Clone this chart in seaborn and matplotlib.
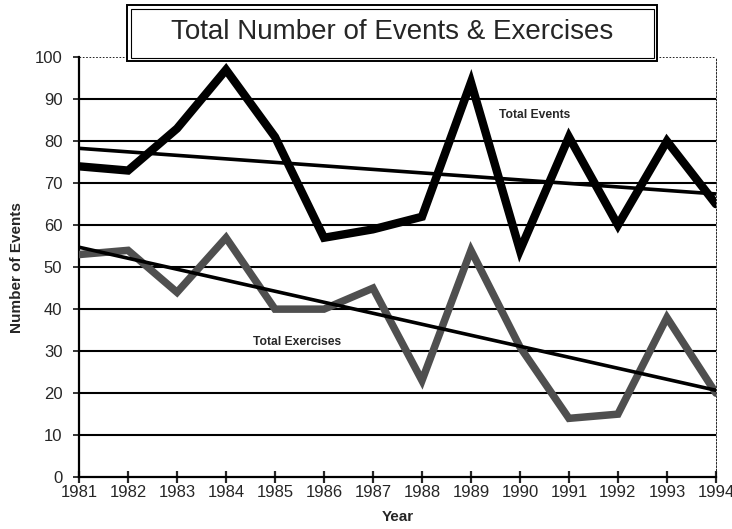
import matplotlib
matplotlib.use("Agg")
import matplotlib.pyplot as plt
from matplotlib.patches import Rectangle
import seaborn as sns
import pandas as pd
import numpy as np

years = [1981, 1982, 1983, 1984, 1985, 1986, 1987, 1988, 1989, 1990, 1991, 1992, 1993, 1994]
total_events = [74, 73, 83, 97, 81, 57, 59, 62, 94, 54, 81, 60, 80, 65]
total_exercises = [53, 54, 44, 57, 40, 40, 45, 23, 54, 31, 14, 15, 38, 20]
y_ticks = [0, 10, 20, 30, 40, 50, 60, 70, 80, 90, 100]

title = "Total Number of Events & Exercises"
x_label = "Year"
y_label = "Number of Events"

df = pd.DataFrame({"Year": years, "Events": total_events, "Exercises": total_exercises})

sns.set_style("white")
plt.rcParams['font.family'] = ['Liberation Sans Narrow', 'Liberation Sans', 'DejaVu Sans']

fig = plt.figure(figsize=(7.32, 5.29), dpi=100)
ax = fig.add_axes([0.108, 0.098, 0.870, 0.794])

# horizontal grid
for v in y_ticks[1:-1]:
    ax.axhline(v, color="black", lw=1.5, zorder=1)
ax.axhline(100, color="black", lw=0.6, ls=(0, (2, 2)), zorder=1)

sns.lineplot(data=df, x="Year", y="Events", ax=ax, color="black", lw=6.0,
             solid_joinstyle="miter", zorder=3)
sns.lineplot(data=df, x="Year", y="Exercises", ax=ax, color="#4f4f4f", lw=5.4,
             solid_joinstyle="miter", zorder=3)
sns.regplot(data=df, x="Year", y="Events", ax=ax, scatter=False, ci=None,
            truncate=True, line_kws={"color": "black", "lw": 2.6, "zorder": 4})
sns.regplot(data=df, x="Year", y="Exercises", ax=ax, scatter=False, ci=None,
            truncate=True, line_kws={"color": "black", "lw": 2.6, "zorder": 4})

ax.set_xlim(years[0], years[-1])
ax.set_ylim(0, 100)
ax.set_xticks(years)
ax.set_xticklabels([str(y) for y in years])
ax.set_yticks(y_ticks)

ax.spines["top"].set_visible(False)
ax.spines["right"].set_linestyle((0, (2, 2)))
ax.spines["right"].set_linewidth(0.6)
ax.spines["left"].set_linewidth(1.6)
ax.spines["bottom"].set_linewidth(1.6)
for s in ["left", "bottom", "right"]:
    ax.spines[s].set_color("black")

ax.tick_params(axis="x", direction="inout", length=8, width=1.6, labelsize=12,
               pad=2, bottom=True)
ax.tick_params(axis="y", direction="out", length=4, width=1.3, labelsize=12,
               pad=8, left=True)
ax.set_xlabel(x_label, fontsize=11, fontweight="bold", labelpad=7,
              family=['Liberation Sans', 'DejaVu Sans'])
ax.set_ylabel(y_label, fontsize=11, fontweight="bold", labelpad=8,
              family=['Liberation Sans', 'DejaVu Sans'])

ax.text(1990.3, 86.2, "Total Events", fontsize=8.7, fontweight="bold", ha="center",
        va="center", family=['Liberation Sans', 'DejaVu Sans'])
ax.text(1985.45, 32.2, "Total Exercises", fontsize=8.7, fontweight="bold", ha="center",
        va="center", family=['Liberation Sans', 'DejaVu Sans'])

# title box with double border
W, H = 732, 529
def fig_rect(x0, y0, x1, y1, **kw):
    r = Rectangle((x0 / W, 1 - y1 / H), (x1 - x0) / W, (y1 - y0) / H,
                  transform=fig.transFigure, figure=fig, **kw)
    fig.patches.append(r)

fig_rect(127, 5, 657, 61, facecolor="white", edgecolor="black", lw=1.4, zorder=10)
fig_rect(130.5, 8.5, 653.5, 57.5, facecolor="white", edgecolor="black", lw=0.8, zorder=11)
fig.text(392 / W, 1 - 32 / H, title, fontsize=20, ha="center", va="center", zorder=12,
         family=['Liberation Sans', 'DejaVu Sans'])

fig.savefig("out.png", dpi=100, facecolor="white")
